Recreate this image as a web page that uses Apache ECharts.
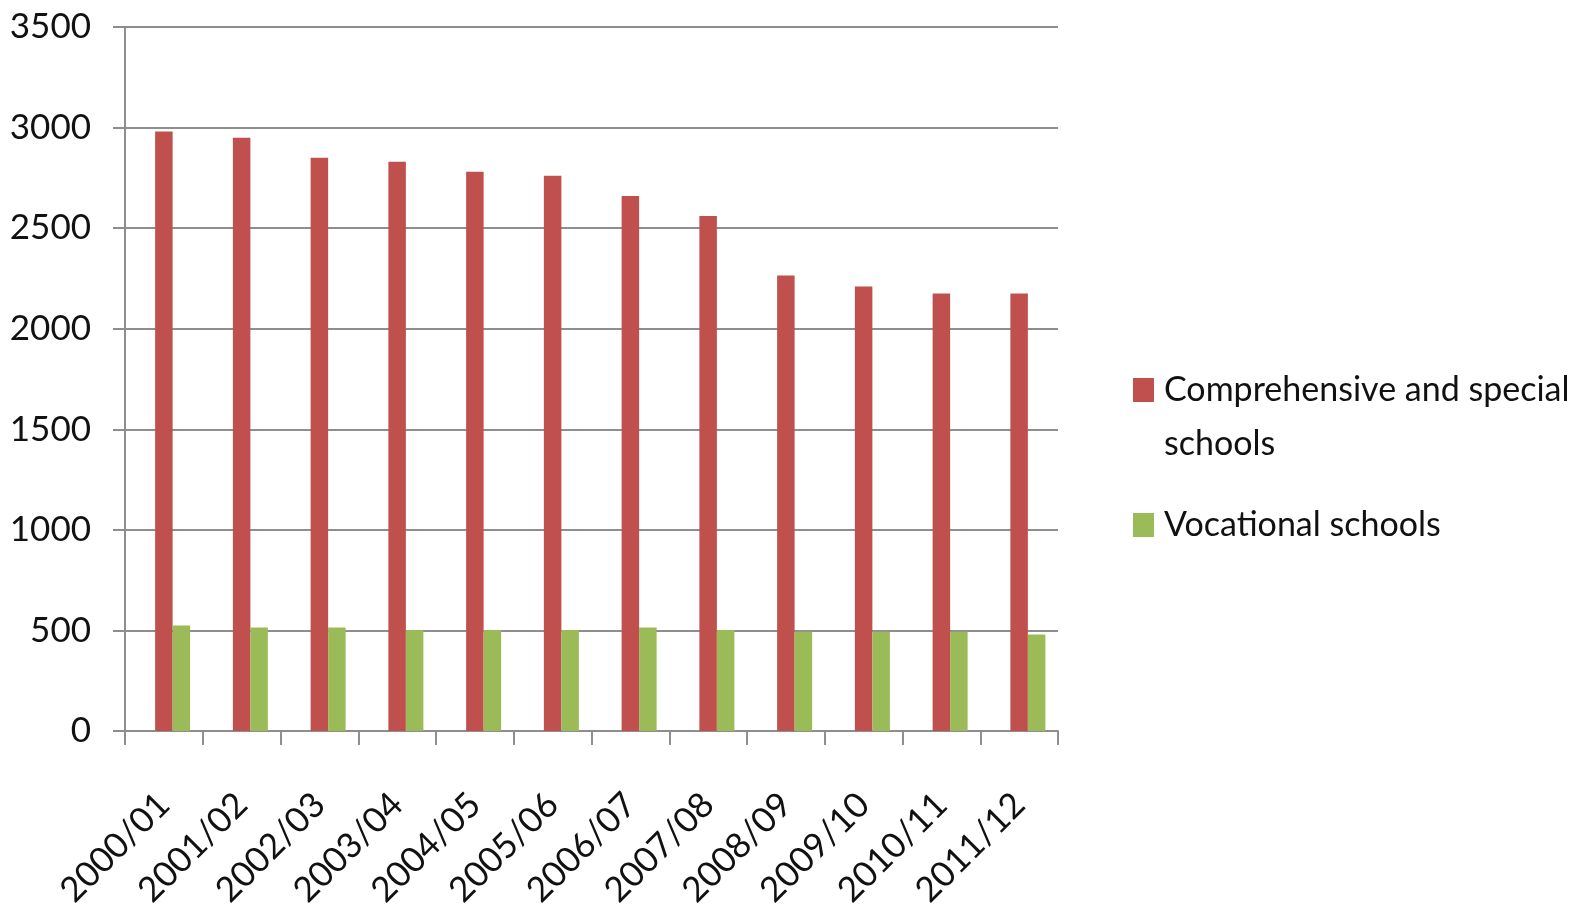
<!DOCTYPE html>
<html>
<head>
<meta charset="utf-8">
<script src="https://cdn.jsdelivr.net/npm/echarts@6/dist/echarts.min.js"></script>
<style>
  html, body { margin: 0; padding: 0; background: #fff; }
  #chart { width: 1583px; height: 924px; }
</style>
</head>
<body>
<div id="chart"></div>
<script>
  var years = ['2000/01', '2001/02', '2002/03', '2003/04', '2004/05', '2005/06',
               '2006/07', '2007/08', '2008/09', '2009/10', '2010/11', '2011/12'];
  var comprehensive = [2980, 2950, 2850, 2830, 2780, 2760, 2660, 2560, 2265, 2210, 2175, 2175];
  var vocational = [525, 514, 514, 502, 502, 502, 514, 502, 494, 494, 494, 480];
  var yTicks = [0, 500, 1000, 1500, 2000, 2500, 3000, 3500];

  var font = "Lato, 'Open Sans', sans-serif";
  var grey = '#8e8e8e';

  var myChart = echarts.init(document.getElementById('chart'));
  var option = {
    animation: false,
    grid: {
      left: 125,
      right: 525,
      top: 27,
      bottom: 193,
      outerBoundsMode: 'none'
    },
    legend: [{
      data: ['Comprehensive and special schools'],
      orient: 'vertical',
      left: 1133,
      top: 309,
      padding: 0,
      itemWidth: 21,
      itemHeight: 24,
      itemGap: 10,
      icon: 'rect',
      formatter: function () {
        // blank first line keeps the square level with the first text line
        return ' \nComprehensive and special\nschools';
      },
      textStyle: { fontFamily: font, fontSize: 34, lineHeight: 54, color: '#111', padding: [0, 0, 0, 5] }
    }, {
      data: ['Vocational schools'],
      orient: 'vertical',
      left: 1133,
      top: 498,
      padding: 0,
      itemWidth: 21,
      itemHeight: 24,
      itemGap: 10,
      icon: 'rect',
      textStyle: { fontFamily: font, fontSize: 34, lineHeight: 54, color: '#111', padding: [0, 0, 0, 5] }
    }],
    xAxis: {
      type: 'category',
      data: years,
      boundaryGap: true,
      axisLine: { lineStyle: { color: grey, width: 2 } },
      axisTick: { show: true, length: 14, alignWithLabel: false, lineStyle: { color: grey, width: 2 } },
      axisLabel: {
        rotate: 45,
        interval: 0,
        margin: 68,
        fontFamily: font,
        fontSize: 35,
        color: '#111'
      }
    },
    yAxis: {
      type: 'value',
      min: 0,
      max: 3500,
      interval: 500,
      axisLine: { show: true, lineStyle: { color: grey, width: 2 } },
      axisTick: { show: true, length: 12, lineStyle: { color: grey, width: 2 } },
      splitLine: { lineStyle: { color: grey, width: 2 } },
      axisLabel: {
        margin: 34,
        fontFamily: font,
        fontSize: 35,
        color: '#111',
        formatter: function (v) {
          return yTicks.indexOf(v) >= 0 ? String(v) : '';
        }
      }
    },
    series: [{
      // empty slot: the source chart leaves room for a third bar on the left
      name: 'empty',
      type: 'bar',
      data: [],
      barWidth: 17.5,
      barGap: '0%'
    }, {
      name: 'Comprehensive and special schools',
      type: 'bar',
      data: comprehensive,
      barWidth: 17.5,
      barGap: '0%',
      itemStyle: { color: '#C0504D' }
    }, {
      name: 'Vocational schools',
      type: 'bar',
      data: vocational,
      barWidth: 17.5,
      barGap: '0%',
      itemStyle: { color: '#9BBB59' }
    }]
  };
  myChart.setOption(option);
</script>
</body>
</html>
